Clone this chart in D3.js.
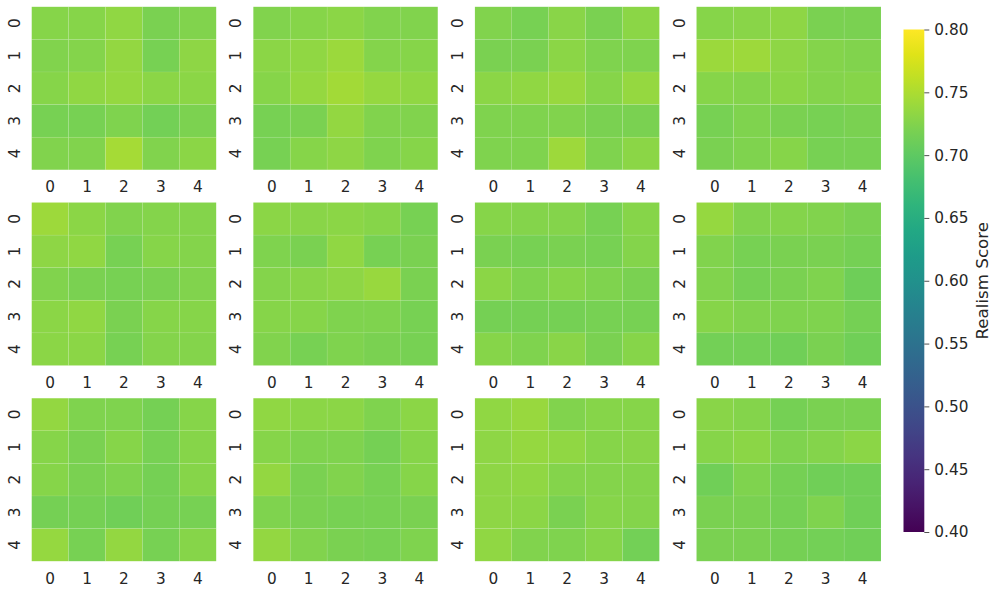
<!DOCTYPE html>
<html><head><meta charset="utf-8">
<script src="https://cdn.jsdelivr.net/npm/d3@7"></script>
<style>body{margin:0;background:#fff}svg{display:block}</style>
</head><body>
<script>
const rows = [0,1,2,3,4];
const cols = [0,1,2,3,4];
const cbTicks = [0.40,0.45,0.50,0.55,0.60,0.65,0.70,0.75,0.80];
const cbLabel = "Realism Score";
const p1 = [[0.727,0.727,0.733,0.720,0.725],[0.724,0.726,0.735,0.718,0.732],[0.728,0.733,0.736,0.731,0.730],[0.718,0.718,0.722,0.715,0.721],[0.724,0.725,0.746,0.724,0.731]];
const p2 = [[0.725,0.727,0.730,0.725,0.725],[0.730,0.733,0.740,0.726,0.727],[0.728,0.737,0.745,0.736,0.733],[0.718,0.719,0.735,0.724,0.724],[0.718,0.728,0.732,0.722,0.728]];
const p3 = [[0.725,0.718,0.729,0.720,0.730],[0.719,0.720,0.730,0.723,0.722],[0.730,0.734,0.739,0.728,0.736],[0.723,0.722,0.725,0.720,0.720],[0.723,0.722,0.742,0.722,0.730]];
const p4 = [[0.728,0.729,0.732,0.720,0.720],[0.740,0.741,0.732,0.726,0.725],[0.727,0.726,0.730,0.726,0.727],[0.718,0.722,0.720,0.718,0.720],[0.720,0.723,0.728,0.718,0.718]];
const p5 = [[0.742,0.730,0.724,0.726,0.726],[0.732,0.733,0.718,0.727,0.726],[0.725,0.720,0.718,0.720,0.724],[0.730,0.734,0.720,0.728,0.727],[0.730,0.730,0.718,0.726,0.726]];
const p6 = [[0.730,0.729,0.730,0.727,0.718],[0.722,0.720,0.733,0.718,0.720],[0.726,0.729,0.732,0.738,0.720],[0.728,0.727,0.723,0.722,0.718],[0.724,0.718,0.723,0.720,0.718]];
const p7 = [[0.728,0.726,0.726,0.718,0.727],[0.719,0.718,0.719,0.718,0.726],[0.730,0.722,0.727,0.722,0.719],[0.717,0.716,0.716,0.718,0.718],[0.727,0.722,0.729,0.720,0.727]];
const p8 = [[0.737,0.725,0.726,0.724,0.720],[0.724,0.718,0.719,0.720,0.717],[0.725,0.717,0.719,0.722,0.711],[0.727,0.724,0.723,0.723,0.717],[0.715,0.715,0.713,0.720,0.714]];
const p9 = [[0.735,0.722,0.722,0.716,0.728],[0.727,0.720,0.728,0.718,0.728],[0.727,0.720,0.722,0.717,0.727],[0.717,0.717,0.713,0.717,0.718],[0.737,0.718,0.735,0.718,0.727]];
const p10 = [[0.733,0.730,0.730,0.722,0.730],[0.728,0.722,0.722,0.716,0.727],[0.735,0.720,0.725,0.718,0.727],[0.723,0.719,0.718,0.718,0.720],[0.735,0.724,0.720,0.718,0.722]];
const p11 = [[0.733,0.738,0.725,0.727,0.727],[0.732,0.737,0.733,0.728,0.729],[0.732,0.734,0.726,0.726,0.726],[0.732,0.730,0.720,0.727,0.726],[0.733,0.725,0.722,0.728,0.715]];
const p12 = [[0.729,0.726,0.716,0.720,0.720],[0.727,0.730,0.722,0.726,0.730],[0.714,0.722,0.717,0.714,0.713],[0.720,0.720,0.716,0.722,0.713],[0.720,0.720,0.717,0.715,0.713]];
const panels = [p1,p2,p3,p4,p5,p6,p7,p8,p9,p10,p11,p12];

const W = 996, H = 593;
const font = "'DejaVu Sans', sans-serif";
const svg = d3.select("body").append("svg").attr("width", W).attr("height", H)
  .style("font-family", font);
const color = d3.scaleSequential(d3.interpolateViridis).domain([0.40, 0.80]);
const textCol = "#262626";
const tickFs = 15.3;

const pw = 184.5, ph = 163;
const px0 = 31.7, pxStep = 221.6;
const py0 = 6.8, pyStep = 195.7;

panels.forEach((data, i) => {
  const c = i % 4, r = Math.floor(i / 4);
  const gx = px0 + c * pxStep, gy = py0 + r * pyStep;
  const x = d3.scaleBand().domain(cols).range([0, pw]);
  const y = d3.scaleBand().domain(rows).range([0, ph]);
  const g = svg.append("g").attr("transform", `translate(${gx},${gy})`);
  const cells = [];
  data.forEach((row, ri) => row.forEach((v, ci) => cells.push({r: ri, c: ci, v})));
  g.selectAll("rect").data(cells).join("rect")
    .attr("x", d => x(d.c)).attr("y", d => y(d.r))
    .attr("width", x.bandwidth()).attr("height", y.bandwidth())
    .attr("fill", d => color(d.v))
    .attr("stroke", "rgba(255,255,255,0.15)").attr("stroke-width", 0.5);
  const xa = g.append("g").attr("transform", `translate(0,${ph})`)
    .call(d3.axisBottom(x).tickSize(0).tickPadding(11.5));
  xa.select(".domain").remove();
  xa.selectAll("text").attr("font-size", tickFs).attr("fill", textCol)
    .attr("font-family", font);
  const ya = g.append("g").call(d3.axisLeft(y).tickSize(0).tickPadding(0));
  ya.select(".domain").remove();
  ya.selectAll("text").attr("font-size", tickFs).attr("fill", textCol)
    .attr("font-family", font)
    .attr("text-anchor", "middle").attr("dy", 0).attr("x", null)
    .attr("transform", "translate(-12,0) rotate(-90)");
});

// colorbar
const cbX = 903.5, cbW = 20.8, cbTop = 29.5, cbBot = 532;
const defs = svg.append("defs");
const grad = defs.append("linearGradient").attr("id", "vir")
  .attr("x1", 0).attr("y1", 1).attr("x2", 0).attr("y2", 0);
d3.range(0, 1.0001, 0.05).forEach(t => {
  grad.append("stop").attr("offset", t).attr("stop-color", d3.interpolateViridis(t));
});
svg.append("rect").attr("x", cbX).attr("y", cbTop).attr("width", cbW).attr("height", cbBot - cbTop)
  .attr("fill", "url(#vir)");
const cbScale = d3.scaleLinear().domain([0.40, 0.80]).range([cbBot, cbTop]);
const cba = svg.append("g").attr("transform", `translate(${cbX + cbW},0)`)
  .call(d3.axisRight(cbScale).tickValues(cbTicks).tickFormat(d3.format(".2f")).tickSize(5).tickPadding(5));
cba.select(".domain").remove();
cba.selectAll("line").attr("stroke", textCol).attr("stroke-width", 0.8);
cba.selectAll("text").attr("font-size", tickFs).attr("fill", textCol)
  .attr("font-family", font);
svg.append("text").attr("transform", `translate(988,${(cbTop + cbBot) / 2}) rotate(-90)`)
  .attr("text-anchor", "middle").attr("font-size", 16.7).attr("fill", textCol)
  .attr("font-family", font)
  .text(cbLabel);
</script>
</body></html>
